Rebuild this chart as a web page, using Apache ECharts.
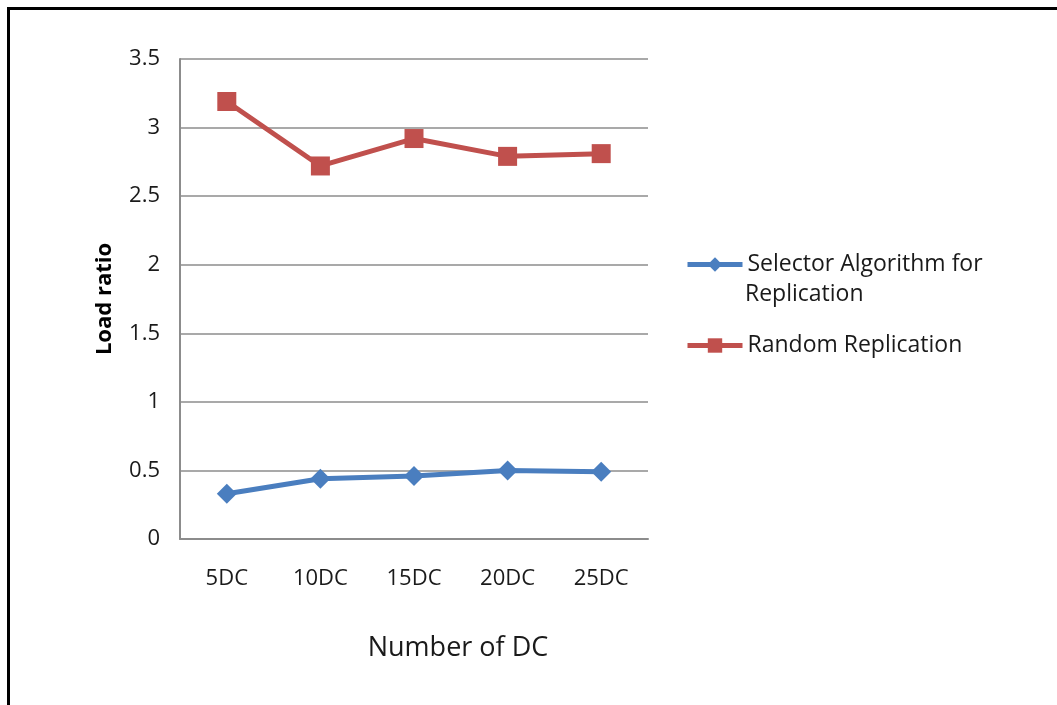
<!DOCTYPE html>
<html>
<head>
<meta charset="utf-8">
<script src="https://cdn.jsdelivr.net/npm/echarts@6/dist/echarts.min.js"></script>
<style>
  html, body { margin: 0; padding: 0; background: #fff; }
  .frame {
    position: absolute;
    left: 7px;
    top: 7px;
    width: 1050px;
    height: 698px;
    border-left: 3px solid #000;
    border-top: 3px solid #000;
  }
  #chart { position: absolute; left: 0; top: 0; width: 1057px; height: 705px; }
</style>
</head>
<body>
<div class="frame"></div>
<div id="chart"></div>
<script>
// 数据
const categories = ['5DC', '10DC', '15DC', '20DC', '25DC']
const selectorValues = [0.33, 0.44, 0.46, 0.50, 0.49]
const randomValues = [3.19, 2.72, 2.92, 2.79, 2.81]
const yTicks = [0, 0.5, 1, 1.5, 2, 2.5, 3, 3.5]

const SELECTOR = 'Selector Algorithm for Replication'
const RANDOM = 'Random Replication'

const FONT = 'Open Sans'
const TEXT_COLOR = '#1a1a1a'
const BLUE = '#4a7ebf'
const RED = '#c0504d'

const chart = echarts.init(document.getElementById('chart'))

// 图例（第一项分两行显示，第二行用 graphic 文本）
const legendBase = {
  left: 685,
  orient: 'vertical',
  padding: 0,
  itemWidth: 55,
  itemHeight: 18,
  itemGap: 5,
  lineStyle: { width: 5 },
  textStyle: { fontFamily: FONT, fontSize: 23, color: TEXT_COLOR }
}

const option = {
  backgroundColor: 'transparent',
  animation: false,
  textStyle: { fontFamily: FONT },
  grid: {
    left: 180,
    top: 59,
    width: 468,
    height: 480
  },
  legend: [
    Object.assign({}, legendBase, {
      top: 253,
      data: [SELECTOR],
      formatter: () => 'Selector Algorithm for'
    }),
    Object.assign({}, legendBase, {
      top: 334,
      data: [RANDOM]
    })
  ],
  graphic: [
    {
      type: 'text',
      left: 745,
      top: 283,
      style: {
        text: 'Replication',
        font: '23px "Open Sans"',
        fill: TEXT_COLOR
      }
    }
  ],
  xAxis: {
    type: 'category',
    data: categories,
    boundaryGap: true,
    name: 'Number of DC',
    nameLocation: 'middle',
    nameGap: 96,
    nameTextStyle: {
      fontFamily: FONT,
      fontSize: 27,
      color: TEXT_COLOR,
      padding: [0, 0, 0, 88]
    },
    axisLine: { lineStyle: { color: '#8c8c8c', width: 2 } },
    axisTick: { show: false },
    axisLabel: { fontFamily: FONT, fontSize: 22, color: TEXT_COLOR, margin: 29 }
  },
  yAxis: {
    type: 'value',
    min: yTicks[0],
    max: yTicks[yTicks.length - 1],
    interval: 0.5,
    name: 'Load ratio',
    nameLocation: 'middle',
    nameGap: 64,
    nameTextStyle: { fontFamily: FONT, fontSize: 22, fontWeight: 'bold', color: '#000' },
    axisLine: { show: true, lineStyle: { color: '#8c8c8c', width: 2 } },
    axisTick: { show: false },
    axisLabel: { fontFamily: FONT, fontSize: 22, color: TEXT_COLOR, margin: 20 },
    splitLine: { lineStyle: { color: '#8c8c8c', width: 1.5 } }
  },
  series: [
    {
      name: SELECTOR,
      type: 'line',
      data: selectorValues,
      symbol: 'diamond',
      symbolSize: 20,
      color: BLUE,
      lineStyle: { width: 5, color: BLUE },
      itemStyle: { color: BLUE }
    },
    {
      name: RANDOM,
      type: 'line',
      data: randomValues,
      symbol: 'rect',
      symbolSize: 19,
      color: RED,
      lineStyle: { width: 5, color: RED },
      itemStyle: { color: RED }
    }
  ]
}

chart.setOption(option)
</script>
</body>
</html>
